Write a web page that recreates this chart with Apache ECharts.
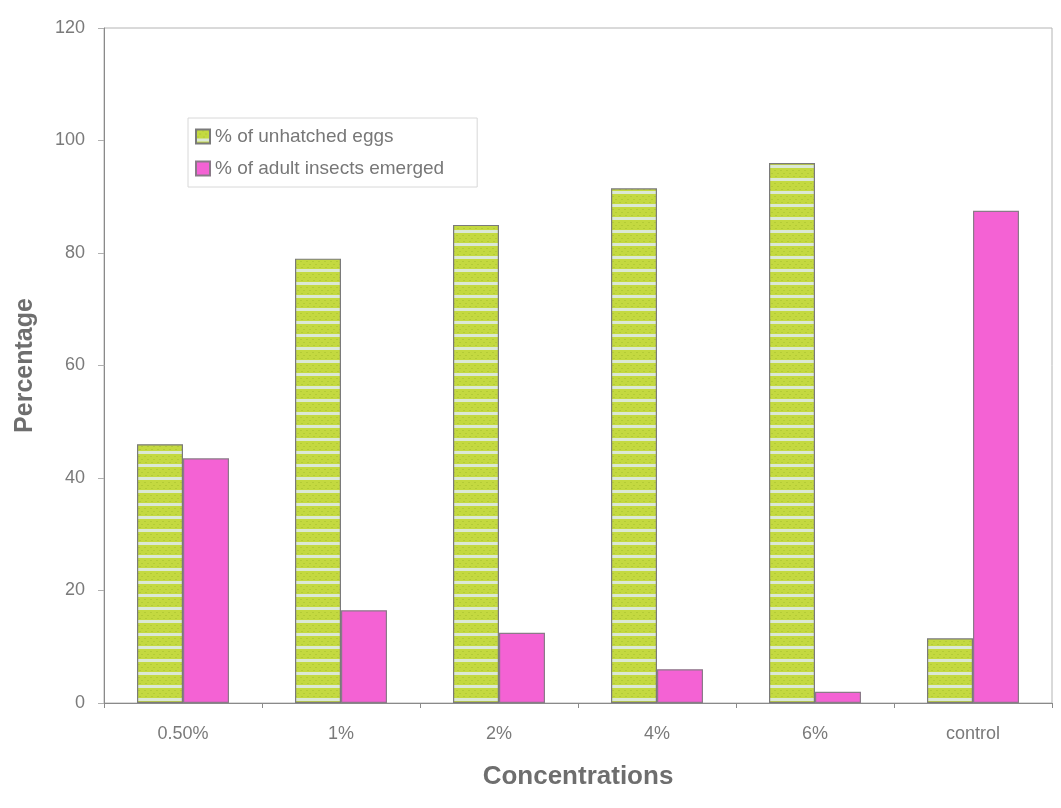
<!DOCTYPE html>
<html>
<head>
<meta charset="utf-8">
<script src="https://cdn.jsdelivr.net/npm/echarts@6/dist/echarts.min.js"></script>
<style>
  html, body { margin: 0; padding: 0; background: #fff; }
  #chart { width: 1061px; height: 808px; }
</style>
</head>
<body>
<div id="chart"></div>
<script>
// Concentration groups and measured percentages
const categories = ['0.50%', '1%', '2%', '4%', '6%', 'control'];
const unhatchedEggs = [46, 79, 85, 91.5, 96, 11.5];
const adultsEmerged = [43.5, 16.5, 12.5, 6, 2, 87.5];
const yTicks = { min: 0, max: 120, interval: 20 };

// Striped green fill: lime body with thin pale horizontal bands
function stripePattern() {
  const c = document.createElement('canvas');
  c.width = 6; c.height = 13;
  const g = c.getContext('2d');
  g.fillStyle = '#c4d940';
  g.fillRect(0, 0, 6, 13);
  g.fillStyle = '#b3cb36';
  g.fillRect(0, 1, 2, 1);
  g.fillRect(3, 4, 2, 1);
  g.fillRect(1, 7, 2, 1);
  g.fillStyle = '#dbe8d4';
  g.fillRect(0, 9, 6, 3);
  return c;
}

const chart = echarts.init(document.getElementById('chart'), null, { renderer: 'canvas' });
const font = 'Liberation Sans, Arial, sans-serif';

chart.setOption({
  backgroundColor: '#ffffff',
  animation: false,
  textStyle: { fontFamily: font },
  grid: {
    left: 104, top: 28, right: 9, bottom: 105,
    containLabel: false,
    outerBoundsMode: 'none',
    show: true, borderColor: '#b4b4b4', borderWidth: 1
  },
  legend: {
    orient: 'vertical',
    left: 188, top: 118,
    padding: [9, 33, 9, 7],
    itemGap: 13,
    itemWidth: 14, itemHeight: 14,
    borderColor: '#d8d8d8', borderWidth: 1,
    textStyle: { color: '#777', fontSize: 19, fontFamily: font },
    data: [
      { name: '% of unhatched eggs', icon: 'rect' },
      { name: '% of adult insects emerged', icon: 'rect' }
    ]
  },
  xAxis: {
    type: 'category',
    data: categories,
    name: 'Concentrations',
    nameLocation: 'middle',
    nameGap: 61,
    nameTextStyle: { color: '#6e6e6e', fontSize: 26, fontWeight: 'bold', fontFamily: font },
    axisLine: { lineStyle: { color: '#8a8a8a', width: 1 } },
    axisTick: { show: true, length: 5, lineStyle: { color: '#8a8a8a' } },
    axisLabel: { color: '#7a7a7a', fontSize: 18, margin: 22, fontFamily: font }
  },
  yAxis: {
    type: 'value',
    min: yTicks.min, max: yTicks.max, interval: yTicks.interval,
    name: 'Percentage',
    nameLocation: 'middle',
    nameGap: 66,
    nameTextStyle: { color: '#6e6e6e', fontSize: 25, fontWeight: 'bold', fontFamily: font },
    axisLine: { show: true, lineStyle: { color: '#8a8a8a', width: 1 } },
    axisTick: { show: true, length: 6, lineStyle: { color: '#b0b0b0' } },
    axisLabel: { color: '#7a7a7a', fontSize: 18, margin: 19, fontFamily: font },
    splitLine: { show: false }
  },
  series: [
    {
      name: '% of unhatched eggs',
      type: 'bar',
      data: unhatchedEggs,
      barWidth: 46,
      barGap: '0%',
      itemStyle: {
        color: { image: stripePattern(), repeat: 'repeat' },
        borderColor: '#7a7a7a', borderWidth: 1.2
      }
    },
    {
      name: '% of adult insects emerged',
      type: 'bar',
      data: adultsEmerged,
      barWidth: 46,
      barGap: '0%',
      itemStyle: {
        color: '#f462d4',
        borderColor: '#8a7a88', borderWidth: 1.2
      }
    }
  ]
});
</script>
</body>
</html>
